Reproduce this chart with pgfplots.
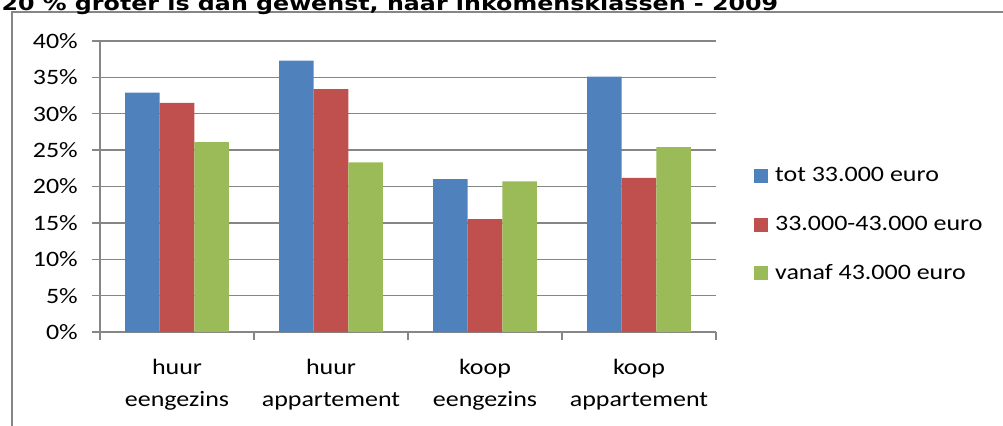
\documentclass[border=0pt]{standalone}
\usepackage{pgfplots}
\pgfplotsset{compat=1.18}
\usepackage{fontspec}
\setmainfont{Carlito}[FakeStretch=1.18]
\newfontfamily\titlefont{DejaVu Sans}[FakeStretch=1.22]
\definecolor{cblue}{HTML}{4F81BD}
\definecolor{cred}{HTML}{C0504D}
\definecolor{cgreen}{HTML}{9BBB59}
\definecolor{cgrid}{HTML}{868686}
\begin{document}
\begin{tikzpicture}
\fontsize{16.5}{19}\selectfont
\draw[cgrid, line width=1pt] (9pt,-20pt) -- (9pt,309.75pt) -- (780pt,309.75pt);
\node[anchor=base west, inner sep=0pt] at (1pt,311pt) {\titlefont\fontsize{14.6}{16}\selectfont\bfseries 20 \% groter is dan gewenst, naar inkomensklassen - 2009};
\begin{axis}[
  at={(75pt,69.75pt)}, anchor=south west,
  scale only axis, width=462pt, height=218.25pt,
  ybar=0pt, bar width=25.9pt,
  xmin=-0.5, xmax=3.5, ymin=0, ymax=40,
  axis x line*=bottom, axis y line*=left,
  axis line style={cgrid, line width=1pt, -},
  xtick={-0.5,0.5,1.5,2.5,3.5},
  x tick label as interval,
  xticklabels={{huur\\eengezins},{huur\\appartement},{koop\\eengezins},{koop\\appartement}},
  xticklabel style={align=center, font=\fontsize{16.5}{24}\selectfont, yshift=-9pt},
  ytick={0,5,...,40},
  yticklabels={0\%,5\%,10\%,15\%,20\%,25\%,30\%,35\%,40\%},
  yticklabel style={font=\fontsize{16.5}{19}\selectfont, xshift=-5pt},
  tick align=outside, major tick length=6pt,
  tick style={cgrid, line width=1pt},
  ymajorgrids, grid style={cgrid, line width=1pt},
  legend style={draw=none, fill=none, at={(rel axis cs:1.062,0.368)}, anchor=west,
    legend cell align=left, row sep=22.6pt, inner sep=0pt,
    font=\fontsize{16.5}{19}\selectfont,
    nodes={inner sep=0pt, text height=11pt, text depth=3pt}},
  legend image code/.code={\fill[#1] (0pt,-5pt) rectangle (10.5pt,5.5pt);},
]
\addplot[fill=cblue, draw=none] coordinates {(0,32.9) (1,37.3) (2,21.0) (3,35.1)};
\addplot[fill=cred, draw=none] coordinates {(0,31.5) (1,33.4) (2,15.5) (3,21.2)};
\addplot[fill=cgreen, draw=none] coordinates {(0,26.1) (1,23.3) (2,20.7) (3,25.4)};
\legend{\hspace{5pt}tot 33.000 euro,\hspace{5pt}33.000-43.000 euro,\hspace{5pt}vanaf 43.000 euro}
\end{axis}
\pgfresetboundingbox
\useasboundingbox (0,0) rectangle (752.25pt,318.75pt);
\end{tikzpicture}
\end{document}
